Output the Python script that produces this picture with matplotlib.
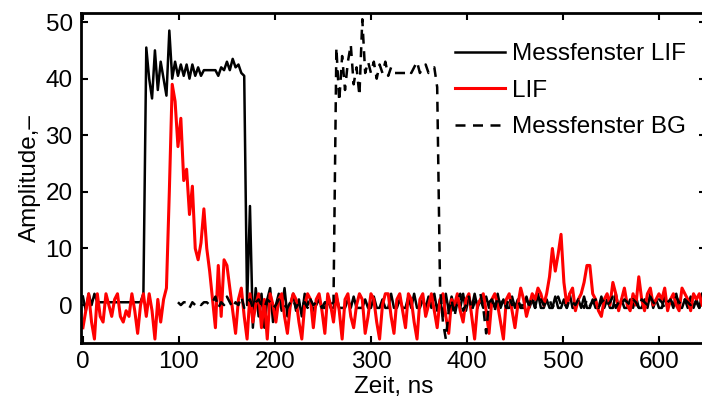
import numpy as np
import matplotlib.pyplot as plt

plt.rcParams['font.family'] = ['Liberation Sans', 'DejaVu Sans']
plt.rcParams['font.size'] = 17.5

# time axis, ns (3 ns sampling)
t = np.arange(0, 648, 3)

# Messfenster LIF (solid black)
mf_lif = [1.5, -1, 2, 0, 2, 0.5, 0.5, 0.5, 0.5, 0.5,
          0.5, 0.5, 0.5, 0.5, 0.5, 0.5, 0.5, 0.5, 0.5, 0.5,
          0.5, 2, 45.5, 40, 36.5, 45, 38, 43, 40, 37,
          48.5, 40, 43, 40.5, 42.5, 40.5, 42.5, 40, 42.5, 40.5,
          42, 40.5, 41.5, 41.5, 41.5, 41.5, 41.5, 40.5, 42, 41.5,
          43, 41.5, 43.5, 42, 42.5, 41, 40.5, 0, 17.5, -4,
          3, -2, 2, -4, 1, 3, -3, 0, 2, -1,
          3, -2, 0, 2, -1, 1, -2, 2, 0, 1,
          -1, 0, 1, -0.5, -0.5, 1, -0.5, -0.5, 1.5, -0.5,
          -0.5, -0.5, 1, -0.5, 1.5, -0.5, -0.5, -0.5, 1, -0.5,
          -0.5, 1.5, -0.5, -0.5, 1, -0.5, -0.5, 2, -0.5, -0.5,
          1, -0.5, -0.5, 1.5, -0.5, 2, -0.5, -0.5, 1, -0.5,
          1.5, -0.5, 2, -1, 1, -2, 2, -1, 1.5, -0.5,
          1, -0.5, 2, -1, 1.5, -0.5, 2, -0.5, 1, -0.5,
          1.5, -0.5, 1, -0.5, 2, -0.5, 1, -0.5, -0.5, 1.5,
          -0.5, 1, -0.5, -0.5, 1.5, -0.5, 1, -0.5, 2, -0.5,
          -0.5, 1, -0.5, -0.5, 1.5, -0.5, -0.5, 1, -0.5, 2,
          -0.5, -0.5, 1, -0.5, 1.5, -0.5, -0.5, 1, -0.5, -0.5,
          1.5, -0.5, 1, -0.5, -0.5, 2, -0.5, 1, -0.5, -0.5,
          1, -0.5, 1.5, -0.5, -0.5, 1, -0.5, 2, -0.5, 1,
          -0.5, -0.5, 1.5, -0.5, 1, -0.5, 2, -0.5, -0.5, 1,
          -0.5, 1.5, -0.5, 1, -0.5, 2]

# LIF signal (red)
lif = [-4, -1, 2, -3, -6, 2, -2, -3, 2, 0,
       -2, 1, 2, -2, -3, -1, -2, 2, -1, -5,
       0, 2, -2, 2, -1, -6, 1, -3, 1, 3,
       20, 39, 36, 28, 33, 22, 24, 16, 21, 10,
       8, 11, 17, 10, 6, 1, -4, 7, -2, 8,
       7, 3, -1, -5, 1, 3, -2, -6, 2, -3,
       0, 2, -4, 1, -6, 2, 0, -3, 1, 2,
       -2, -5, 0, 2, 1, -3, -6, 0, 2, 1,
       -4, 1, 2, -1, -5, 2, 0, -3, 2, -1,
       -6, 1, 2, -2, -4, 0, 2, 1, -5, -2,
       2, 1, -3, -6, 0, 2, 2, -2, -5, 1,
       2, -1, -4, 2, 1, -3, -6, 1, 2, -2,
       0, 2, -1, -4, 1, 2, -2, -5, 1, 0,
       2, -1, -3, 1, 2, -2, -6, 0, 1, 2,
       -1, -5, 1, 2, 0, -3, -6, 1, 2, -1,
       -4, 0, 3, 1, -2, 0, 2, 1, 3, 2,
       0, 2, 5, 10, 6, 9, 12.5, 4, 0, 2,
       3, -1, 1, 2, 4, 7, 7, 2, 1, -1,
       -2, 1, 2, 0, 4, 2, -1, 1, 3, 0,
       -1, 2, 0, 5, 1, -1, 2, 3, 0, 1,
       2, 1, 3, -1, 1, 2, 0, -1, 3, 2,
       1, -1, 2, 1, 2, 0]

# Messfenster BG (dashed black), starts at t = 99 ns
bg_start = 33
mf_bg = [0.5, 0, 0.5, 0.5, -0.5, 0.5, 0,
         0.5, 0, 0.5, 0.5, 0, 0.5, 1.5, -0.5, 0.5, 0,
         1.5, 0.5, -0.5, 0.5, 0, 1.5, -0.5, 0.5, 1, -0.5,
         0.5, 1, 0, -0.5, 1, 0.5, -0.5, 0, 1, 0.5,
         0, -0.5, 0.5, 1, -0.5, 0.5, 0, 0.5, -0.5, 1,
         0, 0.5, 0.5, -0.5, 0.5, 0.5, 0, 0.5, 45.5, 36,
         44, 38, 43, 46, 39, 42, 37, 50.5, 41, 43,
         41, 43, 40, 42.5, 41, 43, 40.5, 42, 41, 41,
         41, 41, 41, 41.5, 41, 42, 43, 41, 42, 42.5,
         41, 41.5, 42, 38.5, 3, -3, -6, -1, 1, -2,
         0.5, 2, -1, 0, 1.5, -1, 0.5, 1, 2, -0.5,
         -5, 0.5, 1, -1, 1.5, 0, 1, -0.5, 1.5, 0,
         0.5, 1, -0.5, 0.5, 1, 0, 1.5, -0.5, 0.5, 1,
         0, 0.5, 1, -0.5, 0.5, 1.5, 0, 0.5, -0.5, 1,
         0.5, 0, 1, 0.5, -0.5, 1, 0, 0.5, 1, -0.5,
         0.5, 1, 0, 0.5, 1.5, -0.5, 0.5, 0, 1, 0.5,
         0, 1, 0.5, -0.5, 1, 0.5, 0, 1.5, 0.5, 0,
         1, 0.5, -0.5, 0.5, 1, 0, 1.5, 0.5, 0, 1,
         0.5, 0, 1, 0.5, -0.5, 1]

fig = plt.figure(figsize=(7.02, 3.98), dpi=100)
# right spine sits just outside the picture, as in the reference
ax = fig.add_axes([81 / 702, 55 / 398, 625 / 702, 330 / 398])

ax.plot(t, mf_lif, color='black', lw=1.8, label='Messfenster LIF')
ax.plot(t, lif, color='red', lw=2.2, label='LIF')
ax.plot(t[bg_start:], mf_bg, color='black', lw=1.8, ls=(0, (4, 3)),
        label='Messfenster BG')

ax.set_xlim(-2, 649)
ax.set_ylim(-6.7, 51.6)
ax.set_xticks([0, 100, 200, 300, 400, 500, 600])
ax.set_yticks([0, 10, 20, 30, 40, 50])
ax.tick_params(direction='in', top=True, right=True, length=5, width=1.5, pad=6)
for s in ax.spines.values():
    s.set_linewidth(2)

ax.set_xlabel('Zeit, ns', labelpad=2)
ax.set_ylabel('Amplitude,–', labelpad=3)

ax.legend(loc='upper left', bbox_to_anchor=(455 / 702, 1 - 43 / 398),
          bbox_transform=fig.transFigure, frameon=False,
          handlelength=2.06, handletextpad=0.29, labelspacing=0.6,
          borderaxespad=0, borderpad=0)

plt.savefig('out.png', dpi=100)
